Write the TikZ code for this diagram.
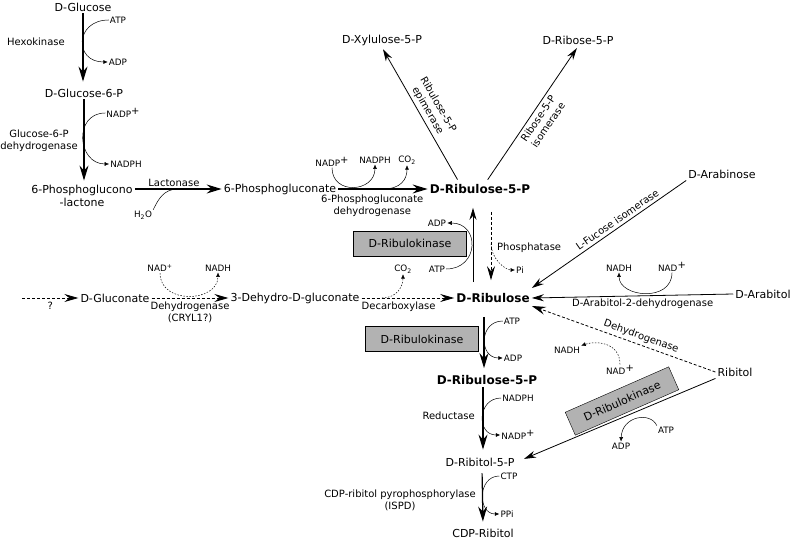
\documentclass[tikz,border=0pt]{standalone}
\usepackage{fontspec}
\setmainfont{DejaVu Sans}
\usetikzlibrary{arrows.meta}

\tikzset{
    metab/.style={font=\fontsize{11}{13}\selectfont, inner sep=2pt},
    keymetab/.style={font=\fontsize{12}{14}\selectfont\bfseries, inner sep=2pt},
    enzyme/.style={font=\fontsize{10}{12}\selectfont, inner sep=1pt, align=center},
    cofactor/.style={font=\fontsize{8.8}{10}\selectfont, inner sep=1pt},
    kinase/.style={draw=black, fill=black!30, minimum width=113pt, minimum height=25pt, inner sep=0pt, font=\fontsize{11}{13}\selectfont},
    mainarrow/.style={-{Stealth[length=15pt, width=9pt, inset=5pt]}, line width=1.2pt},
    thinarrow/.style={-{Stealth[length=12pt, width=7pt, inset=4pt]}, line width=0.8pt},
    dasharrow/.style={-{Stealth[length=14pt, width=8pt, inset=5pt]}, line width=0.8pt, dash pattern=on 3pt off 2pt},
    sideline/.style={line width=0.5pt},
    sidearrow/.style={sideline, -{Latex[length=4.5pt, width=4pt]}},
    dotside/.style={sidearrow, dash pattern=on 1.5pt off 1.5pt},
}

\newcommand{\kinasebox}[3]{
    \node[kinase, rotate=#3] (#1) at (#2) {D-Ribulokinase};
}
\newcommand{\bendleft}[3]{
    % cofactor pair bent into a vertical arrow on its left
    \draw[sidearrow] (#1.west) .. controls +(-#3,0) and +(-#3,0) .. (#2.west);
}
\newcommand{\bigplus}{\raisebox{0.55ex}{\fontsize{10}{10}\selectfont +}}

\begin{document}
\begin{tikzpicture}[x=1pt, y=1pt]
    \useasboundingbox (0,0) rectangle (792,-540);

    % Glucose to 6-phosphogluconate
    \node[metab] (glc) at (83,-7) {D-Glucose};
    \node[metab] (g6p) at (84,-93) {D-Glucose-6-P};
    \node[metab, align=center] (pgl) at (82,-195.5) {6-Phosphoglucono\\-lactone};
    \node[metab] (pg) at (280,-189) {6-Phosphogluconate};

    \draw[mainarrow, shorten >=5pt] (glc.south) -- (glc.south |- g6p.north);
    \node[enzyme] (hk) at (36,-42) {Hexokinase};
    \node[cofactor] (atp1) at (118,-20) {ATP};
    \node[cofactor] (adp1) at (118,-62) {ADP};
    \bendleft{atp1}{adp1}{34}

    \draw[mainarrow, shorten >=2pt] (g6p.south) -- (g6p.south |- pgl.north);
    \node[enzyme] (g6pdh) at (39,-141) {Glucose-6-P\\dehydrogenase};
    \node[cofactor] (nadp1) at (123,-113) {NADP\bigplus};
    \node[cofactor] (nadph1) at (126,-164) {NADPH};
    \bendleft{nadp1}{nadph1}{32}

    \draw[mainarrow] (pgl.east |- pg.west) -- node[enzyme, above=1pt, pos=0.45] (lac) {Lactonase}
        coordinate[pos=0.5] (lacm) (pg.west);
    \node[cofactor] (h2o) at (143,-215) {H\textsubscript{2}O};
    \draw[sideline] (h2o.north east) .. controls +(5,10) and +(-15,0) .. (lacm);

    % Oxidative step to D-Ribulose-5-P
    \node[keymetab] (ru5p) at (480,-189) {D-Ribulose-5-P};
    \draw[mainarrow] (pg.east) -- node[enzyme, below=4pt, pos=0.38] (pgdh) {6-Phosphogluconate\\dehydrogenase}
        coordinate[pos=0.5] (pgdm) (ru5p.west);
    \node[cofactor] (nadp2) at (332,-162) {NADP\bigplus};
    \node[cofactor] (nadph2) at (375,-160) {NADPH};
    \node[cofactor] (co2a) at (407,-160) {CO\textsubscript{2}};
    \draw[sidearrow] (nadp2.south) .. controls +(0,-28) and +(0,-28) .. (nadph2.south);
    \draw[sidearrow] (pgdm) .. controls +(18,0) and +(0,-14) .. (co2a.south);

    % Non-oxidative branch
    \node[metab] (xu5p) at (382,-40) {D-Xylulose-5-P};
    \node[metab] (r5p) at (578,-40) {D-Ribose-5-P};
    \draw[thinarrow, shorten <=3pt, shorten >=2pt] ([xshift=-21pt]ru5p.north) -- node[enzyme, sloped, above=2pt] (rpe) {Ribulose-5-P\\epimerase} (xu5p.south);
    \draw[thinarrow, shorten <=3pt, shorten >=2pt] ([xshift=6pt]ru5p.north) -- node[enzyme, sloped, below=2pt] (rpi) {Ribose-5-P\\isomerase} (r5p.south);

    % D-Ribulose <-> D-Ribulose-5-P
    \node[keymetab] (rul) at (493,-298) {D-Ribulose};
    \draw[thinarrow, shorten <=9pt, shorten >=12pt] ([xshift=-20pt]rul.north) -- ([xshift=-7pt]ru5p.south);
    \node[cofactor] (adp2) at (437,-223) {ADP};
    \node[cofactor] (atp2) at (437,-269) {ATP};
    \draw[sidearrow] (atp2.east) .. controls +(33,0) and +(33,0) .. (adp2.east);
    \kinasebox{kin1}{410,-243.5}{0}

    \draw[dasharrow, shorten <=16pt, shorten >=11pt] ([xshift=11pt]ru5p.south) -- coordinate[pos=0.5] (phm) ([xshift=-2pt]rul.north);
    \node[enzyme, anchor=west] (pht) at (496,-248) {Phosphatase};
    \node[cofactor] (pi) at (520,-270) {Pi};
    \draw[dotside] (phm) .. controls +(0,-15) and +(-10,0) .. (pi.west);

    % D-Gluconate route
    \coordinate (unk) at (22,-298);
    \node[metab] (dgn) at (115,-298) {D-Gluconate};
    \node[metab] (dhg) at (295,-298) {3-Dehydro-D-gluconate};
    \draw[dasharrow] (unk) -- node[enzyme, below=3pt] (qq) {?} (dgn.west);
    \draw[dasharrow] (dgn.east) -- node[enzyme, below=3pt] (cryl) {Dehydrogenase\\(CRYL1?)} (dhg.west);
    \node[cofactor] (nad1) at (160,-268) {NAD\textsuperscript{+}};
    \node[cofactor] (nadh1) at (218,-268) {NADH};
    \draw[dotside] (nad1.south) .. controls +(0,-32) and +(0,-30) .. (nadh1.south);

    \draw[dasharrow] (dhg.east) -- node[enzyme, below=3pt, pos=0.4] (dcx) {Decarboxylase}
        coordinate[pos=0.22] (decm) (rul.west);
    \node[cofactor] (co2b) at (403,-269) {CO\textsubscript{2}};
    \draw[dotside] (decm) .. controls +(15,0) and +(0,-12) .. (co2b.south);

    % Entries on the right
    \node[metab] (ara) at (722,-174) {D-Arabinose};
    \draw[thinarrow] (ara.south west) -- node[enzyme, sloped, above=2pt, pos=0.42] (fuci) {L-Fucose isomerase} ([yshift=10pt]rul.east);

    \node[metab] (aol) at (763,-294) {D-Arabitol};
    \draw[thinarrow] (aol.west) -- node[enzyme, below=2pt, pos=0.45] (adh) {D-Arabitol-2-dehydrogenase} (rul.east);
    \node[cofactor] (nad2) at (672,-267) {NAD\bigplus};
    \node[cofactor] (nadh2) at (619,-268) {NADH};
    \draw[sidearrow] (nad2.south) .. controls +(0,-30) and +(0,-25) .. (nadh2.south);

    \node[metab] (rbt) at (735,-372) {Ribitol};
    \draw[dasharrow] (rbt.west) -- node[enzyme, sloped, above=2pt, pos=0.42] (rdh) {Dehydrogenase} ([yshift=-8pt]rul.east);
    \node[cofactor] (nad3) at (620,-370) {NAD\bigplus};
    \node[cofactor] (nadh3) at (567,-350) {NADH};
    \draw[dotside] (nad3.north) .. controls +(0,22) and +(15,5) .. (nadh3.north east);

    \node[metab] (rbt5p) at (480,-462) {D-Ribitol-5-P};
    \draw[thinarrow, shorten >=8pt] (rbt.south west) -- (rbt5p.east);
    \kinasebox{kin3}{622,-401}{23.7}
    \node[cofactor] (atp4) at (666,-430) {ATP};
    \node[cofactor] (adp4) at (621,-446) {ADP};
    \draw[sidearrow] (atp4.north west) .. controls +(-6,14) and +(1,26) .. (adp4.north);

    % Down to CDP-Ribitol
    \node[keymetab] (ru5pb) at (487,-380) {D-Ribulose-5-P};
    \draw[mainarrow, shorten <=12pt, shorten >=5pt] ([xshift=-9pt]rul.south) -- ([xshift=-3pt]ru5pb.north);
    \node[cofactor] (atp3) at (512,-321) {ATP};
    \node[cofactor] (adp3) at (513,-358) {ADP};
    \bendleft{atp3}{adp3}{24}
    \kinasebox{kin2}{422,-339}{0}

    \draw[mainarrow, shorten >=6pt] ([xshift=-4pt]ru5pb.south) -- ([xshift=3pt]rbt5p.north);
    \node[enzyme, anchor=east] (red) at (476,-416) {Reductase};
    \node[cofactor] (nadph3) at (518,-398) {NADPH};
    \node[cofactor] (nadp3) at (518,-435) {NADP\bigplus};
    \bendleft{nadph3}{nadp3}{24}

    \node[metab] (cdp) at (483,-533) {CDP-Ribitol};
    \draw[mainarrow, shorten <=5pt, shorten >=5pt] ([xshift=2pt]rbt5p.south) -- (cdp.north);
    \node[enzyme] (ispd) at (400,-500) {CDP-ribitol pyrophosphorylase\\(ISPD)};
    \node[cofactor] (ctp) at (509,-476) {CTP};
    \node[cofactor] (ppi) at (507,-514) {PPi};
    \bendleft{ctp}{ppi}{22}
\end{tikzpicture}
\end{document}
